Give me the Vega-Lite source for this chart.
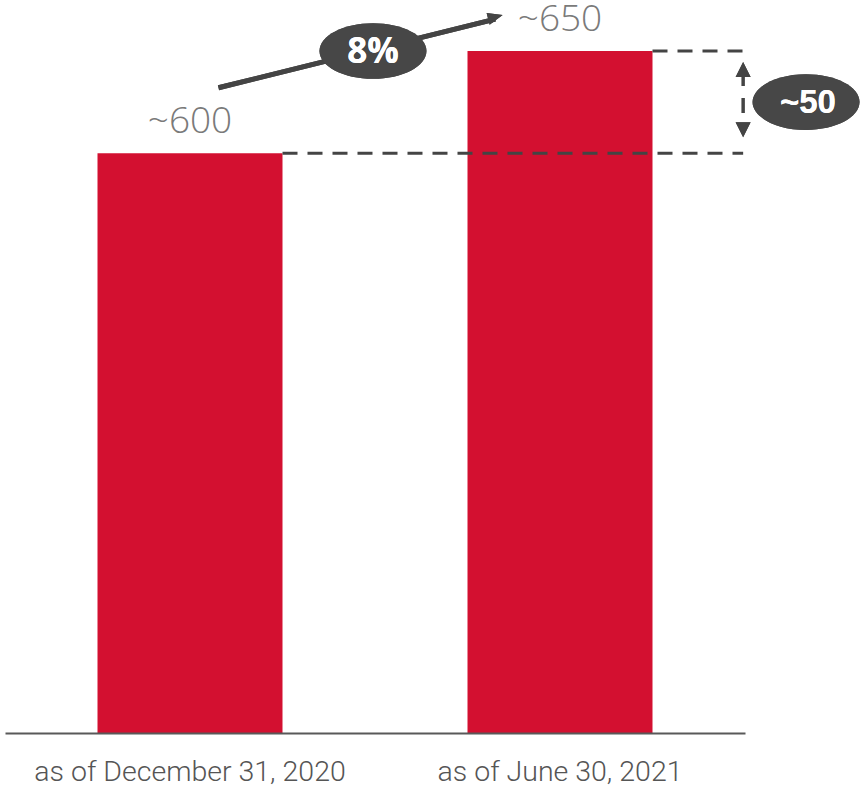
{
  "$schema": "https://vega.github.io/schema/vega-lite/v6.json",
  "width": 740,
  "height": 733,
  "padding": {"left": 5, "top": 0, "right": 116, "bottom": 53},
  "autosize": {"type": "none"},
  "background": "#ffffff",
  "config": {"view": {"stroke": null}},
  "data": {
    "values": [
      {"period": "as of December 31, 2020", "employees": 600, "label": "~600"},
      {"period": "as of June 30, 2021", "employees": 650, "label": "~650"}
    ]
  },
  "layer": [
    {
      "mark": {"type": "bar", "color": "#D31030"},
      "encoding": {
        "x": {
          "field": "period",
          "type": "nominal",
          "sort": null,
          "scale": {"paddingInner": 0.5, "paddingOuter": 0.25},
          "axis": {
            "title": null,
            "labelAngle": 0,
            "ticks": false,
            "domainColor": "#595959",
            "domainWidth": 2,
            "labelFont": "Roboto",
            "labelFontWeight": 300,
            "labelFontSize": 28.5,
            "labelColor": "#555555",
            "labelBaseline": "alphabetic",
            "labelPadding": 47,
            "labelOverlap": false,
            "labelLimit": 0,
            "zindex": 1
          }
        },
        "y": {
          "field": "employees",
          "type": "quantitative",
          "scale": {"domain": [316, 675], "zero": false, "nice": false},
          "axis": null
        },
        "y2": {"datum": 316}
      }
    },
    {
      "mark": {"type": "text", "font": "Open Sans", "fontWeight": 300, "fontSize": 37, "color": "#7a7a7a", "baseline": "alphabetic", "dy": -20},
      "encoding": {
        "x": {"field": "period", "type": "nominal", "sort": null},
        "y": {"field": "employees", "type": "quantitative"},
        "text": {"field": "label"}
      }
    },
    {
      "mark": {"type": "rule", "color": "#444444", "strokeWidth": 3, "strokeDash": [15, 10]},
      "encoding": {
        "x": {"field": "period", "type": "nominal", "sort": null, "bandPosition": 1},
        "x2": {"datum": "as of June 30, 2021", "bandPosition": 1.49},
        "y": {"field": "employees", "type": "quantitative"}
      }
    },
    {
      "mark": {"type": "rule", "color": "#444444", "strokeWidth": 3, "strokeDash": [15, 12], "yOffset": 20, "y2Offset": -20},
      "encoding": {
        "x": {"datum": "as of June 30, 2021", "bandPosition": 1.49},
        "y": {"datum": 650, "type": "quantitative"},
        "y2": {"datum": 600}
      }
    },
    {
      "mark": {"type": "point", "shape": "M0,0L-2,-1L-2,1Z", "size": 225, "filled": true, "opacity": 1, "color": "#444444", "angle": -90, "yOffset": 11},
      "encoding": {
        "x": {"datum": "as of June 30, 2021", "bandPosition": 1.49},
        "y": {"datum": 650, "type": "quantitative"}
      }
    },
    {
      "mark": {"type": "point", "shape": "M0,0L-2,-1L-2,1Z", "size": 225, "filled": true, "opacity": 1, "color": "#444444", "angle": 90, "yOffset": -16},
      "encoding": {
        "x": {"datum": "as of June 30, 2021", "bandPosition": 1.49},
        "y": {"datum": 600, "type": "quantitative"}
      }
    },
    {
      "mark": {"type": "rule", "color": "#444444", "strokeWidth": 5},
      "encoding": {
        "x": {"datum": "as of December 31, 2020", "bandPosition": 0.654},
        "y": {"datum": 632, "type": "quantitative"},
        "x2": {"datum": "as of June 30, 2021", "bandPosition": 0.15},
        "y2": {"datum": 665.6}
      }
    },
    {
      "mark": {"type": "point", "shape": "M0,0L-2,-0.8L-2,0.8Z", "size": 225, "filled": true, "opacity": 1, "color": "#444444", "angle": -14.4},
      "encoding": {
        "x": {"datum": "as of June 30, 2021", "bandPosition": 0.19},
        "y": {"datum": 667.6, "type": "quantitative"}
      }
    },
    {
      "mark": {"type": "point", "shape": "M-1,0A1,0.52 0 1,0 1,0A1,0.52 0 1,0 -1,0Z", "size": 11449, "filled": true, "opacity": 1, "color": "#474747"},
      "encoding": {
        "x": {"datum": "as of December 31, 2020", "bandPosition": 1.489},
        "y": {"datum": 650, "type": "quantitative"}
      }
    },
    {
      "mark": {"type": "text", "font": "Open Sans", "fontWeight": "bold", "fontSize": 35, "color": "#ffffff", "baseline": "middle", "dy": 1},
      "encoding": {
        "x": {"datum": "as of December 31, 2020", "bandPosition": 1.489},
        "y": {"datum": 650, "type": "quantitative"},
        "text": {"value": "8%"}
      }
    },
    {
      "mark": {"type": "point", "shape": "M-1,0A1,0.52 0 1,0 1,0A1,0.52 0 1,0 -1,0Z", "size": 11449, "filled": true, "opacity": 1, "color": "#474747"},
      "encoding": {
        "x": {"datum": "as of June 30, 2021", "bandPosition": 1.83},
        "y": {"datum": 625, "type": "quantitative"}
      }
    },
    {
      "mark": {"type": "text", "font": "Liberation Sans", "fontWeight": "bold", "fontSize": 33, "color": "#ffffff", "baseline": "middle", "dy": 1},
      "encoding": {
        "x": {"datum": "as of June 30, 2021", "bandPosition": 1.84},
        "y": {"datum": 625, "type": "quantitative"},
        "text": {"value": "~50"}
      }
    }
  ]
}
